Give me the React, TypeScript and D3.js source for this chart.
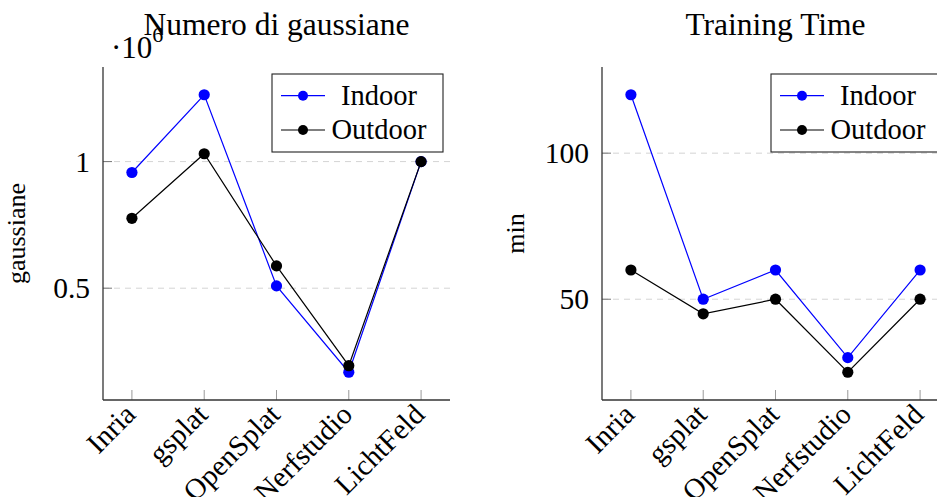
import React from "react";
import * as d3 from "d3";

const categories = ["Inria", "gsplat", "OpenSplat", "Nerfstudio", "LichtFeld"];
const seriesNames = ["Indoor", "Outdoor"];
const seriesColors = ["#0000ff", "#000000"];

// Numero di gaussiane (raw counts)
const gaussIndoor = [957000, 1264000, 509000, 168000, 1000000];
const gaussOutdoor = [776000, 1031000, 588000, 194000, 1000000];
const gaussTicks = [500000, 1000000];
const gaussTickLabels = ["0.5", "1"];

// Training time (minutes)
const timeIndoor = [120, 50, 60, 30, 60];
const timeOutdoor = [60, 45, 50, 25, 50];
const timeTicks = [50, 100];
const timeTickLabels = ["50", "100"];

const FONT = "'Liberation Serif', 'Times New Roman', serif";

type PanelProps = {
  x0: number;
  x1: number;
  title: string;
  ylabel: string;
  series: number[][];
  ticks: number[];
  tickLabels: string[];
  exponent?: boolean;
};

function enlarged(values: number[], f = 0.1): [number, number] {
  const [mn, mx] = d3.extent(values) as [number, number];
  const r = mx - mn;
  return [mn - f * r, mx + f * r];
}

function Panel({ x0, x1, title, ylabel, series, ticks, tickLabels, exponent }: PanelProps) {
  const top = 67;
  const bottom = 400;
  const x = d3.scaleLinear().domain([-0.4, categories.length - 1 + 0.4]).range([x0, x1]);
  const y = d3.scaleLinear().domain(enlarged(series.flat())).range([bottom, top]);
  const line = d3
    .line<number>()
    .x((_, i) => x(i))
    .y((d) => y(d));
  const cx = (x0 + x1) / 2;
  const legW = 171;
  const legL = x1 - 7 - legW;
  const legT = 74;
  const legH = 78;
  return (
    <g>
      <text x={cx} y={35} textAnchor="middle" fontSize={31.5} fontFamily={FONT}>
        {title}
      </text>
      {exponent && (
        <text x={111} y={58} fontSize={31} fontFamily={FONT}>
          ·10
          <tspan dy={-16} fontSize={22}>
            6
          </tspan>
        </text>
      )}
      {/* grid */}
      {ticks.map((t, i) => (
        <line
          key={"g" + i}
          x1={x0}
          x2={x1}
          y1={y(t)}
          y2={y(t)}
          stroke="#d4d4d4"
          strokeWidth={1}
          strokeDasharray="6,5"
        />
      ))}
      {/* y ticks */}
      {ticks.map((t, i) => (
        <g key={"yt" + i}>
          <line x1={x0} x2={x0 + 9} y1={y(t)} y2={y(t)} stroke="#777" strokeWidth={1} />
          <text
            x={x0 - 13}
            y={y(t) + 10}
            textAnchor="end"
            fontSize={29.5}
            fontFamily={FONT}
          >
            {tickLabels[i]}
          </text>
        </g>
      ))}
      {/* x ticks */}
      {categories.map((c, i) => (
        <g key={"xt" + i}>
          <line x1={x(i)} x2={x(i)} y1={bottom} y2={bottom - 10} stroke="#999" strokeWidth={1} />
          <text
            transform={`translate(${x(i) - 2},${bottom + 9}) rotate(-45)`}
            textAnchor="end"
            dy="0.35em"
            fontSize={29}
            fontFamily={FONT}
          >
            {c}
          </text>
        </g>
      ))}
      {/* axes */}
      <line x1={x0} x2={x0} y1={top} y2={bottom} stroke="#333" strokeWidth={1.3} />
      <line x1={x0} x2={x1} y1={bottom} y2={bottom} stroke="#333" strokeWidth={1.3} />
      {/* y label */}
      <text
        transform={`translate(${x0 - 78},${(top + bottom) / 2}) rotate(-90)`}
        textAnchor="middle"
        fontSize={26}
        fontFamily={FONT}
      >
        {ylabel}
      </text>
      {/* series */}
      {series.map((s, k) => (
        <g key={"s" + k}>
          <path d={line(s) || ""} fill="none" stroke={seriesColors[k]} strokeWidth={1.2} />
          {s.map((v, i) => (
            <circle key={i} cx={x(i)} cy={y(v)} r={5.6} fill={seriesColors[k]} />
          ))}
        </g>
      ))}
      {/* legend */}
      <rect x={legL} y={legT} width={legW} height={legH} fill="white" stroke="#222" strokeWidth={1.1} />
      {seriesNames.map((n, k) => {
        const ry = legT + 21.7 + k * 34.3;
        return (
          <g key={"l" + k}>
            <line x1={legL + 9} x2={legL + 53} y1={ry} y2={ry} stroke={seriesColors[k]} strokeWidth={1.2} />
            <circle cx={legL + 31} cy={ry} r={5} fill={seriesColors[k]} />
            <text x={legL + 107} y={ry + 9} textAnchor="middle" fontSize={28.5} fontFamily={FONT}>
              {n}
            </text>
          </g>
        );
      })}
    </g>
  );
}

export default function App() {
  return (
    <svg
      width={937}
      height={497}
      style={{ position: "absolute", left: 0, top: 0, background: "white" }}
    >
      <rect x={0} y={0} width={937} height={497} fill="white" />
      <Panel
        x0={103}
        x1={450}
        title="Numero di gaussiane"
        ylabel="gaussiane"
        series={[gaussIndoor, gaussOutdoor]}
        ticks={gaussTicks}
        tickLabels={gaussTickLabels}
        exponent
      />
      <Panel
        x0={602}
        x1={949}
        title="Training Time"
        ylabel="min"
        series={[timeIndoor, timeOutdoor]}
        ticks={timeTicks}
        tickLabels={timeTickLabels}
      />
    </svg>
  );
}
